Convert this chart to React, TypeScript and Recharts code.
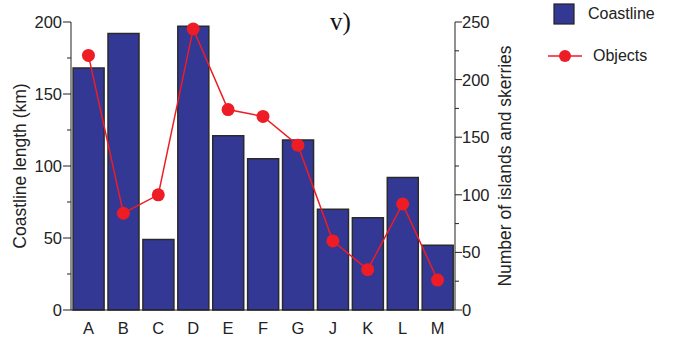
import React from 'react';
import { ComposedChart, Bar, Line, XAxis, YAxis } from 'recharts';

const regions = ['A', 'B', 'C', 'D', 'E', 'F', 'G', 'J', 'K', 'L', 'M'];
const coastline = [168, 192, 49, 197, 121, 105, 118, 70, 64, 92, 45];
const objects = [221, 84, 100, 244, 174, 168, 143, 60, 35, 92, 26];
const leftTicks = [0, 25, 50, 75, 100, 125, 150, 175, 200];
const rightTicks = [0, 25, 50, 75, 100, 125, 150, 175, 200, 225, 250];

const data = regions.map((r, i) => ({ region: r, coastline: coastline[i], objects: objects[i] }));

const BAR_FILL = '#333894';
const LINE_RED = '#ee1c25';
const FONT = '"Liberation Sans", Arial, sans-serif';

const LeftTick = (props: any) => {
  const { x, y, payload } = props;
  const major = payload.value % 50 === 0;
  return (
    <g>
      <line x1={x - (major ? 8 : 4)} x2={x} y1={y} y2={y} stroke="#222" strokeWidth={1} />
      {major && (
        <text x={x - 9} y={y} dy={6} textAnchor="end" fontSize={16.5} fill="#222" fontFamily={FONT}>
          {payload.value}
        </text>
      )}
    </g>
  );
};

const RightTick = (props: any) => {
  const { x, y, payload } = props;
  const major = payload.value % 50 === 0;
  return (
    <g>
      <line x1={x} x2={x + (major ? 7 : 4)} y1={y} y2={y} stroke="#222" strokeWidth={1} />
      {major && (
        <text x={x + 7} y={y} dy={6} textAnchor="start" fontSize={16.5} fill="#222" fontFamily={FONT}>
          {payload.value}
        </text>
      )}
    </g>
  );
};

const LegendBox = () => (
  <div style={{ fontFamily: FONT, fontSize: 16, color: '#222' }}>
    <div style={{ display: 'flex', alignItems: 'center', height: 24 }}>
      <svg width={42} height={24}>
        <rect x={8} y={2} width={20} height={20} fill={BAR_FILL} stroke="#222" strokeWidth={1.2} />
      </svg>
      <span>Coastline</span>
    </div>
    <div style={{ display: 'flex', alignItems: 'center', height: 24, marginTop: 18 }}>
      <svg width={47} height={24}>
        <line x1={2} x2={36} y1={12} y2={12} stroke={LINE_RED} strokeWidth={1.5} />
        <circle cx={19} cy={12} r={6} fill={LINE_RED} />
      </svg>
      <span>Objects</span>
    </div>
  </div>
);

export default function App() {
  return (
    <div style={{ position: 'absolute', left: 0, top: 0, width: 675, height: 338, background: '#fff' }}>
      <ComposedChart
        width={675}
        height={338}
        data={data}
        margin={{ top: 22, right: 160, bottom: 0, left: 0 }}
        barCategoryGap="6%"
      >
        <XAxis
          dataKey="region"
          tickLine={false}
          axisLine={{ stroke: '#222' }}
          height={28}
          tickMargin={6}
          tick={{ fontSize: 16.5, fill: '#222', fontFamily: FONT }}
          interval={0}
        />
        <YAxis
          yAxisId="left"
          domain={[0, 200]}
          ticks={leftTicks}
          width={71}
          tickLine={false}
          tickSize={0}
          tickMargin={0}
          axisLine={{ stroke: '#222' }}
          tick={<LeftTick />}
          interval={0}
          label={{
            value: 'Coastline length (km)',
            angle: -90,
            position: 'insideLeft',
            offset: 20,
            style: { textAnchor: 'middle', fontSize: 17.5, fill: '#222', fontFamily: FONT },
          }}
        />
        <YAxis
          yAxisId="right"
          orientation="right"
          domain={[0, 250]}
          ticks={rightTicks}
          width={60}
          tickLine={false}
          tickSize={0}
          tickMargin={0}
          axisLine={{ stroke: '#222' }}
          tick={<RightTick />}
          interval={0}
          label={{
            value: 'Number of islands and skerries',
            angle: -90,
            position: 'insideRight',
            offset: 10,
            style: { textAnchor: 'middle', fontSize: 17.5, fill: '#222', fontFamily: FONT },
          }}
        />
        <Bar
          yAxisId="left"
          dataKey="coastline"
          name="Coastline"
          fill={BAR_FILL}
          stroke="#2a2a2a"
          strokeWidth={1.5}
          isAnimationActive={false}
        />
        <Line
          yAxisId="right"
          dataKey="objects"
          name="Objects"
          type="linear"
          stroke={LINE_RED}
          strokeWidth={1.5}
          dot={{ r: 6.5, fill: LINE_RED, stroke: LINE_RED, strokeWidth: 0 }}
          isAnimationActive={false}
        />
      </ComposedChart>
      <div style={{ position: 'absolute', left: 546, top: 2 }}>
        <LegendBox />
      </div>
      <div
        style={{
          position: 'absolute',
          left: 330,
          top: 8,
          fontFamily: '"Liberation Serif", "Times New Roman", serif',
          fontSize: 25,
          color: '#111',
        }}
      >
        v)
      </div>
    </div>
  );
}
